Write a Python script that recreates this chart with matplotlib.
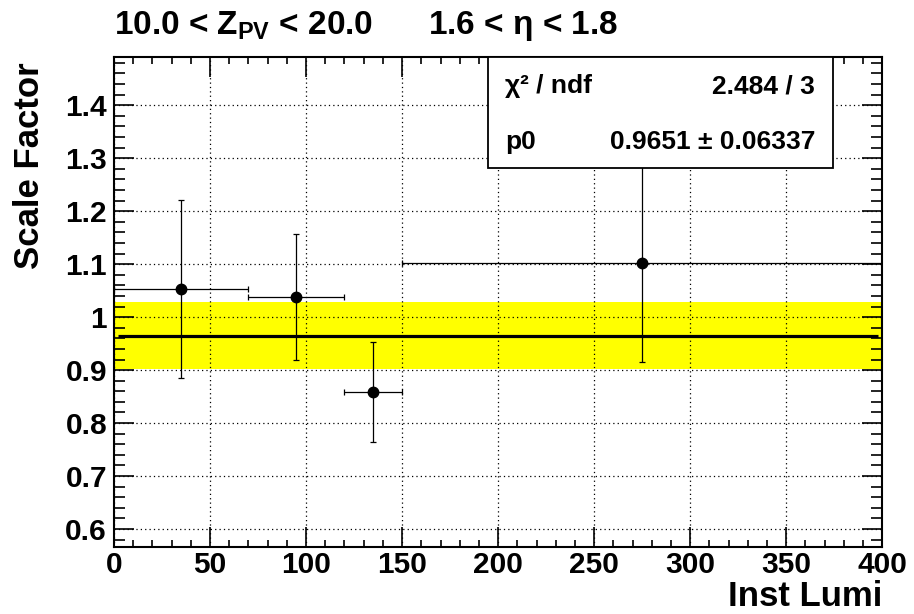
import matplotlib
matplotlib.use("Agg")
import matplotlib.pyplot as plt
from matplotlib.ticker import MultipleLocator

# Scale factor vs instantaneous luminosity, ROOT-style plot
plt.rcParams['font.family'] = 'Liberation Sans'
plt.rcParams['font.weight'] = 'bold'
plt.rcParams['mathtext.fontset'] = 'custom'
plt.rcParams['mathtext.rm'] = 'Liberation Sans:bold'
plt.rcParams['mathtext.it'] = 'Liberation Sans:bold'
plt.rcParams['mathtext.bf'] = 'Liberation Sans:bold'

# data
lumi = [35, 95, 135, 275]
lumi_err = [35, 25, 15, 125]
sf = [1.054, 1.038, 0.859, 1.103]
sf_err = [0.168, 0.119, 0.094, 0.188]

p0 = 0.9651
p0_err = 0.06337
chi2 = 2.484
ndf = 3

fig = plt.figure(figsize=(9.14, 6.14), dpi=100)
ax = fig.add_axes([0.1247, 0.1096, 0.9653 - 0.1247, 0.9067 - 0.1096])

ax.set_xlim(0, 400)
ax.set_ylim(0.5666, 1.4906)

# fit band and fit line
ax.fill_between([0, 400], p0 - p0_err, p0 + p0_err, color='#ffff00', lw=0, zorder=1)
ax.plot([2, 398], [p0, p0], color='black', lw=2.3, zorder=3, solid_capstyle='butt')

# data points
ax.errorbar(lumi, sf, xerr=lumi_err, yerr=sf_err, fmt='o', color='black',
            ms=7.5, elinewidth=0.9, capsize=2.5, capthick=0.9, zorder=4)

# ticks and grid
ax.xaxis.set_major_locator(MultipleLocator(50))
ax.xaxis.set_minor_locator(MultipleLocator(10))
ax.yaxis.set_major_locator(MultipleLocator(0.1))
ax.yaxis.set_minor_locator(MultipleLocator(0.02))
ax.yaxis.set_major_formatter(plt.FuncFormatter(lambda v, p: ('%g' % round(v, 2))))
ax.tick_params(which='both', direction='in', top=True, right=True, width=1.2, colors='black')
ax.tick_params(axis='x', which='major', length=14.5, labelsize=21.5, pad=3)
ax.tick_params(axis='x', which='minor', length=5)
ax.tick_params(axis='y', which='major', length=14.5, labelsize=21.5, pad=5)
ax.tick_params(axis='y', which='minor', length=8)
for lab in ax.get_xticklabels() + ax.get_yticklabels():
    lab.set_fontweight('bold')
ax.grid(True, which='major', color='black', linestyle=(0, (1, 2.5)), lw=0.9, zorder=2)
ax.set_axisbelow(False)
for s in ax.spines.values():
    s.set_linewidth(1.5)
    s.set_zorder(6)

# stats box
box = plt.Rectangle((488 / 914, 1 - 168 / 614), (833 - 488) / 914, (168 - 57) / 614,
                    transform=fig.transFigure, facecolor='white', edgecolor='black',
                    lw=1.3, zorder=10)
fig.patches.append(box)
fig.text(505 / 914, 1 - 93 / 614, 'χ² / ndf', fontsize=19, fontweight='bold', va='baseline', zorder=11)
fig.text(815 / 914, 1 - 93 / 614, '%.3f / %d' % (chi2, ndf), fontsize=19, fontweight='bold',
         ha='right', va='baseline', zorder=11)
fig.text(505 / 914, 1 - 149 / 614, 'p0', fontsize=19, fontweight='bold', va='baseline', zorder=11)
fig.text(815 / 914, 1 - 149 / 614, '%.4f ± %.5f' % (p0, p0_err), fontsize=19, fontweight='bold',
         ha='right', va='baseline', zorder=11)

# titles
fig.text(114 / 914, 1 - 34 / 614, '10.0 < $Z_{PV}$ < 20.0      1.6 < η < 1.8',
         fontsize=24, fontweight='bold', va='baseline')
fig.text(30 / 914, 1 - 62 / 614, 'Scale Factor', fontsize=25, fontweight='bold',
         rotation=90, ha='center', va='top')
fig.text(882 / 914, 1 - 606 / 614, 'Inst Lumi', fontsize=25, fontweight='bold',
         ha='right', va='baseline')

fig.savefig('out.png', dpi=100)
